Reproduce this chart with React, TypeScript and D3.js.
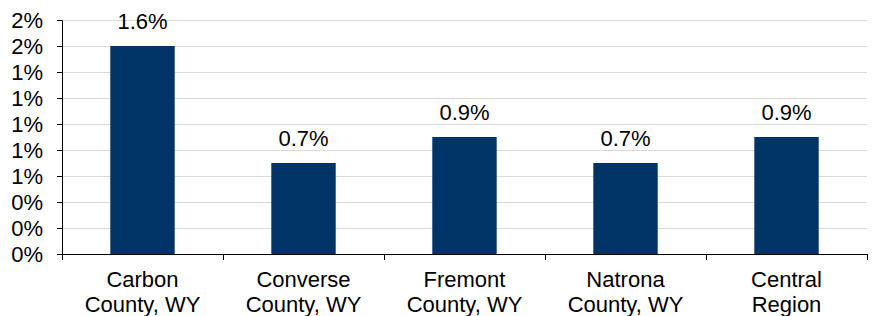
import * as d3 from 'd3';
import { useEffect, useRef } from 'react';

const categories = [
  ['Carbon', 'County, WY'],
  ['Converse', 'County, WY'],
  ['Fremont', 'County, WY'],
  ['Natrona', 'County, WY'],
  ['Central', 'Region'],
];
const values = [1.6, 0.7, 0.9, 0.7, 0.9];
const yTicks = [0, 0.2, 0.4, 0.6, 0.8, 1.0, 1.2, 1.4, 1.6, 1.8];

export default function App() {
  const ref = useRef<SVGSVGElement>(null);

  useEffect(() => {
    const svg = d3.select(ref.current);
    svg.selectAll('*').remove();

    const margin = { top: 20, right: 5, bottom: 62, left: 62 };
    const width = 872 - margin.left - margin.right;
    const height = 316 - margin.top - margin.bottom;
    const font = 'Liberation Sans, Arial, sans-serif';
    const fs = 22;

    const g = svg.append('g').attr('transform', `translate(${margin.left},${margin.top})`);

    const x = d3.scaleBand<number>()
      .domain(d3.range(values.length))
      .range([0, width])
      .paddingInner(0.6)
      .paddingOuter(0.3);
    const step = width / values.length;

    const y = d3.scaleLinear().domain([0, 1.8]).range([height, 0]);

    // gridlines
    g.append('g')
      .selectAll('line')
      .data(yTicks.slice(1))
      .enter()
      .append('line')
      .attr('x1', 0)
      .attr('x2', width)
      .attr('y1', d => Math.round(y(d)) + 0.5)
      .attr('y2', d => Math.round(y(d)) + 0.5)
      .attr('stroke', '#d9d9d9')
      .attr('stroke-width', 1);

    // bars
    g.selectAll('rect.bar')
      .data(values)
      .enter()
      .append('rect')
      .attr('class', 'bar')
      .attr('x', (_, i) => x(i)!)
      .attr('width', x.bandwidth())
      .attr('y', d => y(d))
      .attr('height', d => height - y(d))
      .attr('fill', '#003366');

    // value labels
    g.selectAll('text.val')
      .data(values)
      .enter()
      .append('text')
      .attr('class', 'val')
      .attr('x', (_, i) => x(i)! + x.bandwidth() / 2)
      .attr('y', d => y(d) - 17.5)
      .attr('text-anchor', 'middle')
      .attr('font-family', font)
      .attr('font-size', fs)
      .attr('fill', '#000')
      .text(d => d.toFixed(1) + '%');

    // y axis
    const yAxis = g.append('g')
      .call(d3.axisLeft(y).tickValues(yTicks).tickSize(5).tickPadding(14).tickFormat(d => d3.format('.0f')(+d) + '%'));
    yAxis.select('.domain').attr('stroke', '#000');
    yAxis.selectAll('.tick line').attr('stroke', '#000');
    yAxis.selectAll('text').attr('font-family', font).attr('font-size', fs).attr('fill', '#000');

    // x axis
    const xAxis = g.append('g').attr('transform', `translate(0,${height})`);
    xAxis.append('line')
      .attr('x1', 0).attr('x2', width)
      .attr('y1', 0.5).attr('y2', 0.5)
      .attr('stroke', '#000');
    xAxis.selectAll('line.tk')
      .data(d3.range(values.length + 1))
      .enter()
      .append('line')
      .attr('class', 'tk')
      .attr('x1', d => Math.round(d * step) + 0.5)
      .attr('x2', d => Math.round(d * step) + 0.5)
      .attr('y1', 0)
      .attr('y2', 6)
      .attr('stroke', '#000');
    const labels = xAxis.selectAll('text.cat')
      .data(categories)
      .enter()
      .append('text')
      .attr('class', 'cat')
      .attr('text-anchor', 'middle')
      .attr('font-family', font)
      .attr('font-size', fs)
      .attr('fill', '#000')
      .attr('transform', (_, i) => `translate(${x(i)! + x.bandwidth() / 2},0)`);
    labels.selectAll('tspan')
      .data(d => d)
      .enter()
      .append('tspan')
      .attr('x', 0)
      .attr('y', (_, j) => 33 + j * 25)
      .text(d => d);
  }, []);

  return (
    <svg ref={ref} width={872} height={316} style={{ position: 'absolute', left: 0, top: 0 }} />
  );
}
